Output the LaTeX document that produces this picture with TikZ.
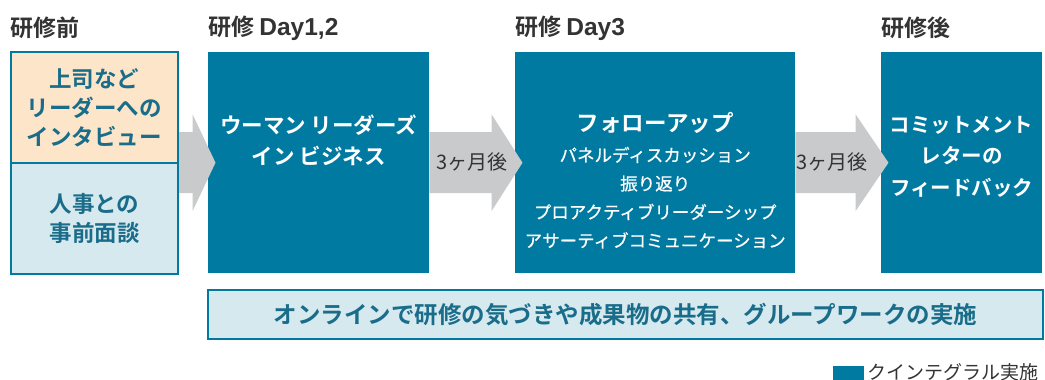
\documentclass[tikz,border=0pt]{standalone}
\usepackage{fontspec}
\setmainfont{Noto Sans CJK JP}[BoldFont={Noto Sans CJK JP Bold}]
\newfontfamily\latina{Liberation Sans}
\usetikzlibrary{positioning,calc}

\definecolor{azul}{HTML}{007AA0}
\definecolor{pessego}{HTML}{FCE5C8}
\definecolor{azulclaro}{HTML}{D6E9EE}
\definecolor{cinza}{HTML}{C9CACB}
\definecolor{tealtexto}{HTML}{1A6D8A}
\definecolor{escuro}{HTML}{333333}

\newcommand{\tam}[2]{\fontsize{#1}{#2}\selectfont}

% seta cinza: no de partida, no de chegada, comprimento da ponta
\newcommand{\setacinza}[3]{%
  \coordinate (ponta) at ($(#2.west)+(7.5,0)$);
  \coordinate (base) at (#1 |- ponta);
  \fill[cinza] ($(base)+(0,-30.5)$) -- ($(ponta)+(-#3,-30.5)$)
    -- ($(ponta)+(-#3,-48.5)$) -- (ponta) -- ($(ponta)+(-#3,48.5)$)
    -- ($(ponta)+(-#3,30.5)$) -- ($(base)+(0,30.5)$) -- cycle;}

\begin{document}
\begin{tikzpicture}[x=1pt, y=-1pt,
    caixa/.style={fill=azul, anchor=north west, inner sep=0pt, minimum height=221pt},
    caixaclara/.style={fill=#1, draw=azul, line width=2pt, anchor=north west, inner sep=0pt},
    titulo/.style={anchor=west, inner sep=0pt, text=escuro, font=\bfseries\tam{23}{26}},
    textoteal/.style={text=tealtexto, align=center, font=\bfseries\tam{22.5}{29}},
    textobranco/.style={text=white, align=center, font=\bfseries\tam{21.5}{30.5}},
    meses/.style={text=escuro, font=\tam{20}{22}}]

  \useasboundingbox (0,0) rectangle (1045,380);

  % Titulos
  \node[titulo] (h1) at (10,28) {研修前};
  \node[titulo] (h2) at (208,28) {研修 {\latina\fontsize{24.5}{26}\selectfont Day1,2}};
  \node[titulo] (h3) at (515,28) {研修 {\latina\fontsize{24.5}{26}\selectfont Day3}};
  \node[titulo] (h4) at (881,28) {研修後};

  % Caixas
  \node[caixaclara=pessego, minimum width=167pt, minimum height=111pt] (pretop) at (10,51) {};
  \node[caixaclara=azulclaro, minimum width=167pt, minimum height=111pt] (prebot) at (10,162) {};
  \node[caixa, minimum width=221pt] (day12) at (208,52) {};
  \node[caixa, minimum width=280pt] (day3) at (515,52) {};
  \node[caixa, minimum width=161pt] (post) at (881,52) {};

  % Setas
  \setacinza{pretop.south east}{day12}{23}
  \setacinza{day12.east}{day3}{31}
  \setacinza{day3.east}{post}{33}

  \node[meses] (m1) at ($(day12.east)!0.5!(day3.west)+(0,-1)$) {3ヶ月後};
  \node[meses] (m2) at ($(day3.east)!0.5!(post.west)+(-6,-1)$) {3ヶ月後};

  % Textos
  \node[textoteal] (pretoptxt) at (pretop) {上司など\\リーダーへの\\インタビュー};
  \node[textoteal] (prebottxt) at (prebot) {人事との\\事前面談};
  \node[textobranco] (day12txt) at ($(day12)+(0,-22.5)$) {ウーマン リーダーズ\\イン ビジネス};
  \node[textobranco, font=\bfseries\tam{22.5}{26}] (day3tit) at ($(day3)+(0,-39.5)$) {フォローアップ};
  \node[text=white, align=center, font=\tam{17.5}{28.5}\addfontfeature{FakeBold=0.6}] (day3txt) at ($(day3)+(0,35)$)
    {パネルディスカッション\\振り返り\\プロアクティブリーダーシップ\\アサーティブコミュニケーション};
  \node[textobranco, font=\bfseries\tam{20.5}{31.5}] (posttxt) at ($(post)+(0,-6)$) {コミットメント\\レターの\\フィードバック};

  % Barra inferior
  \node[caixaclara=azulclaro, minimum width=835pt, minimum height=49pt] (barra) at (207,289) {};
  \node[textoteal, font=\bfseries\tam{23.5}{28}] (barratxt) at (barra) {オンラインで研修の気づきや成果物の共有、グループワークの実施};

  % Legenda
  \node[fill=azul, anchor=north west, inner sep=0pt, minimum width=31pt, minimum height=18pt] (leg) at (833,366) {};
  \node[right=3pt of leg, inner sep=0pt, yshift=3pt, text=escuro, font=\tam{19}{22}] (legtxt) {クインテグラル実施};

\end{tikzpicture}
\end{document}
